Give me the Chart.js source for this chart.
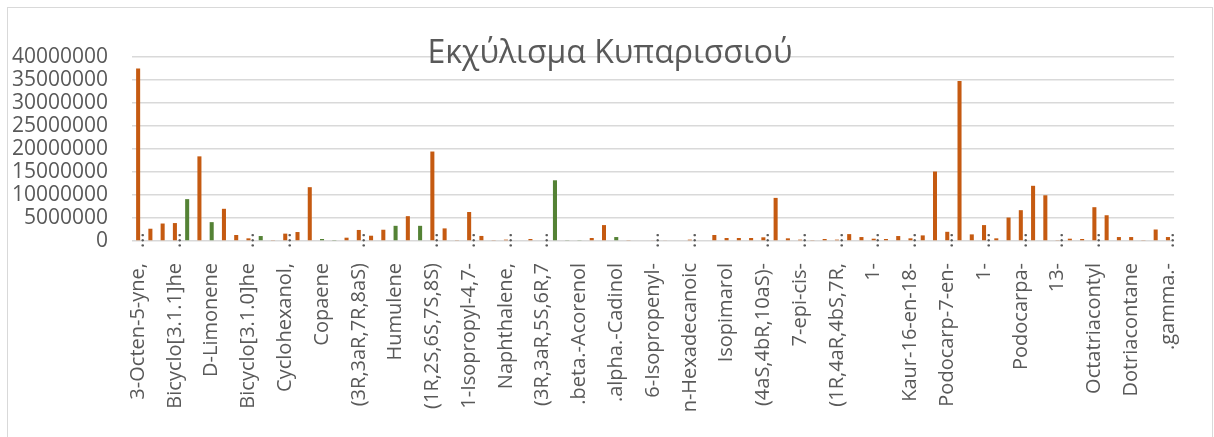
<!DOCTYPE html>
<html>
<head>
<meta charset="utf-8">
<script src="https://cdn.jsdelivr.net/npm/chart.js@4.4.0/dist/chart.umd.min.js"></script>
<style>
    html, body { margin: 0; padding: 0; background: #fff; overflow: hidden; }
    #frame { position: absolute; left: 7px; top: 7px; width: 1206px; height: 440px; border: 1px solid #d9d9d9; box-sizing: border-box; }
    #chart { position: absolute; left: 0; top: 0; }
</style>
</head>
<body>
<div id="frame"></div>
<canvas id="chart" width="1214" height="437"></canvas>
<script>
// compound names shown under the axis (one every third column)
const tickLabels = [
    '3-Octen-5-yne,…', 'Bicyclo[3.1.1]he…', 'D-Limonene', 'Bicyclo[3.1.0]he…', 'Cyclohexanol,…',
    'Copaene', '(3R,3aR,7R,8aS)…', 'Humulene', '(1R,2S,6S,7S,8S)…', '1-Isopropyl-4,7-…',
    'Naphthalene,…', '(3R,3aR,5S,6R,7…', '.beta.-Acorenol', '.alpha.-Cadinol', '6-Isopropenyl-…',
    'n-Hexadecanoic…', 'Isopimarol', '(4aS,4bR,10aS)-…', '7-epi-cis-…', '(1R,4aR,4bS,7R,…',
    '1-…', 'Kaur-16-en-18-…', 'Podocarp-7-en-…', '1-…', 'Podocarpa-…',
    '13-…', 'Octatriacontyl…', 'Dotriacontane', '.gamma.-…'
];

// peak areas, orange series
const orangeAreas = [
    37500000, 2670000, 3800000, 3900000, null, 18400000, null, 7000000, 1300000, 580000,
    null, 200000, 1600000, 1950000, 11700000, null, null, 720000, 2400000, 1150000,
    2450000, null, 5400000, null, 19450000, 2740000, 200000, 6300000, 1100000, 200000,
    300000, null, 430000, null, null, null, null, 650000, 3460000, null,
    200000, null, 150000, 150000, null, 300000, null, 1300000, 650000, 650000,
    650000, 800000, 9370000, 580000, 300000, 200000, 430000, 300000, 1500000, 860000,
    500000, 430000, 1080000, 580000, 1220000, 15100000, 2000000, 34800000, 1440000, 3460000,
    580000, 5100000, 6700000, 12000000, 9940000, 200000, 500000, 430000, 7350000, 5600000,
    860000, 860000, 200000, 2500000, 860000
];

// peak areas, green series
const greenAreas = [
    null, null, null, null, 9100000, null, 4100000, null, null, null,
    1080000, null, null, null, null, 430000, 220000, null, null, null,
    null, 3300000, null, 3300000, null, null, null, null, null, null,
    null, null, null, null, 13200000, 200000, 200000, null, null, 860000,
    null, null, null, null, null, null, null, null, null, null,
    null, null, null, null, null, null, null, null, null, null,
    null, null, null, null, null, null, null, null, null, null,
    null, null, null, null, null, null, null, null, null, null,
    null, null, null, null, null
];

const categories = orangeAreas.map((_, i) => (i % 3 === 0 ? tickLabels[i / 3] : ''));

const textColor = '#595959';
const fontFamily = '"Open Sans", "Noto Sans", sans-serif';

// title sits over the top gridline, so it is drawn by hand
const titlePlugin = {
    id: 'overlayTitle',
    afterDraw(chart) {
        const ctx = chart.ctx;
        ctx.save();
        ctx.fillStyle = textColor;
        ctx.font = '32px ' + fontFamily;
        ctx.textAlign = 'center';
        ctx.textBaseline = 'alphabetic';
        ctx.fillText('Εκχύλισμα Κυπαρισσιού', 610, 63);
        ctx.restore();
    }
};

// cut-off names get their ellipsis right at the axis
const ellipsisPlugin = {
    id: 'ellipsisMarks',
    afterDraw(chart) {
        const xs = chart.scales.x;
        const ctx = chart.ctx;
        ctx.save();
        ctx.fillStyle = textColor;
        ctx.font = '20px ' + fontFamily;
        ctx.textAlign = 'left';
        ctx.textBaseline = 'middle';
        categories.forEach((name, i) => {
            if (!name.endsWith('…')) return;
            ctx.save();
            ctx.translate(xs.getPixelForValue(i), xs.top + 7);
            ctx.rotate(-Math.PI / 2);
            ctx.fillText('…', 0, 0);
            ctx.restore();
        });
        ctx.restore();
    }
};

const ctx1 = document.getElementById('chart').getContext('2d');
new Chart(ctx1, {
    type: 'bar',
    data: {
        labels: categories,
        datasets: [{
            label: 'Series1',
            data: orangeAreas,
            backgroundColor: '#c55a11',
            categoryPercentage: 1,
            barPercentage: 0.33
        }, {
            label: 'Series2',
            data: greenAreas,
            backgroundColor: '#548235',
            categoryPercentage: 1,
            barPercentage: 0.33
        }]
    },
    options: {
        responsive: false,
        animation: false,
        layout: {
            padding: { left: 0, right: 11, top: 57, bottom: 0 }
        },
        scales: {
            x: {
                stacked: true,
                grid: { display: false, drawTicks: false },
                border: { display: false },
                ticks: {
                    autoSkip: false,
                    maxRotation: 90,
                    minRotation: 90,
                    padding: 22,
                    color: textColor,
                    font: { family: fontFamily, size: 20 },
                    callback: function (value) {
                        return this.getLabelForValue(value).replace(/…$/, '');
                    }
                },
                afterFit: (scale) => { scale.height = 196; }
            },
            y: {
                stacked: false,
                min: 0,
                max: 40000000,
                grid: { color: '#d9d9d9', lineWidth: 1.5, drawTicks: false },
                border: { display: false },
                ticks: {
                    autoSkip: false,
                    stepSize: 5000000,
                    padding: 24,
                    color: textColor,
                    font: { family: fontFamily, size: 21 },
                    callback: (value) => String(value)
                },
                afterFit: (scale) => { scale.width = 132; }
            }
        },
        plugins: {
            legend: { display: false },
            title: { display: false },
            tooltip: { enabled: false }
        }
    },
    plugins: [titlePlugin, ellipsisPlugin]
});
</script>
</body>
</html>
